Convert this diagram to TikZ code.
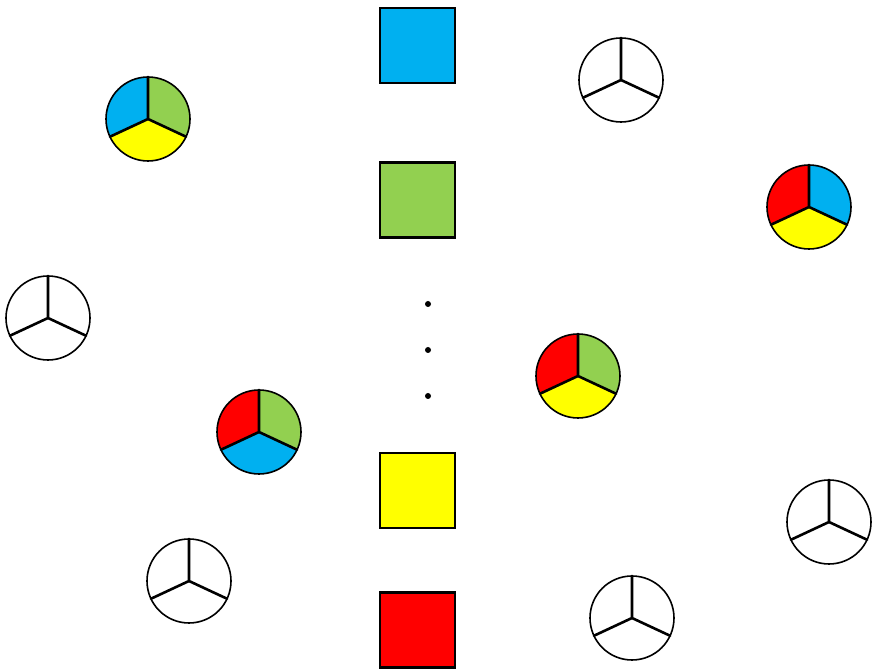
\documentclass[tikz,border=0pt]{standalone}
\definecolor{cblue}{HTML}{00B0F0}
\definecolor{cgreen}{HTML}{92D050}
\definecolor{cyellow}{HTML}{FFFF00}
\definecolor{cred}{HTML}{FF0000}
\tikzset{
  wheel/.style={circle,draw=black,line width=1.6pt,minimum size=84pt,inner sep=0pt},
  spoke/.style={line width=2.6pt,line cap=round},
  sq/.style={draw=black,line width=2.2pt,minimum size=75pt,inner sep=0pt},
  dotn/.style={circle,fill=black,minimum size=6pt,inner sep=0pt}
}
\newcommand\wheelpic[5]{%
  \begin{scope}[shift={#2}]
    \fill[#3] (0,0) -- (90:42) arc (90:205:42) -- cycle;
    \fill[#5] (0,0) -- (205:42) arc (205:335:42) -- cycle;
    \fill[#4] (0,0) -- (335:42) arc (335:450:42) -- cycle;
    \draw[spoke] (0,0) -- (90:42) (0,0) -- (205:42) (0,0) -- (335:42);
  \end{scope}
  \node[wheel] (#1) at #2 {};
}
\begin{document}
\begin{tikzpicture}[x=1pt,y=1pt]
\useasboundingbox (0,0) rectangle (873,671);
\node[sq,fill=cblue] (sqblue) at (417.5,625.5) {};
\node[sq,fill=cgreen] (sqgreen) at (417.5,471) {};
\node[sq,fill=cyellow] (sqyellow) at (417.5,180.5) {};
\node[sq,fill=cred] (sqred) at (417.5,41) {};
\node[dotn] (d1) at (428,367) {};
\node[dotn] (d2) at (428,321) {};
\node[dotn] (d3) at (428,275) {};
\wheelpic{w1}{(148,552)}{cblue}{cgreen}{cyellow}
\wheelpic{w2}{(621,591)}{white}{white}{white}
\wheelpic{w3}{(809,464)}{cred}{cblue}{cyellow}
\wheelpic{w4}{(48,353)}{white}{white}{white}
\wheelpic{w5}{(578,295)}{cred}{cgreen}{cyellow}
\wheelpic{w6}{(259,239)}{cred}{cgreen}{cblue}
\wheelpic{w7}{(829,149)}{white}{white}{white}
\wheelpic{w8}{(189,90)}{white}{white}{white}
\wheelpic{w9}{(632,53)}{white}{white}{white}
\end{tikzpicture}
\end{document}
